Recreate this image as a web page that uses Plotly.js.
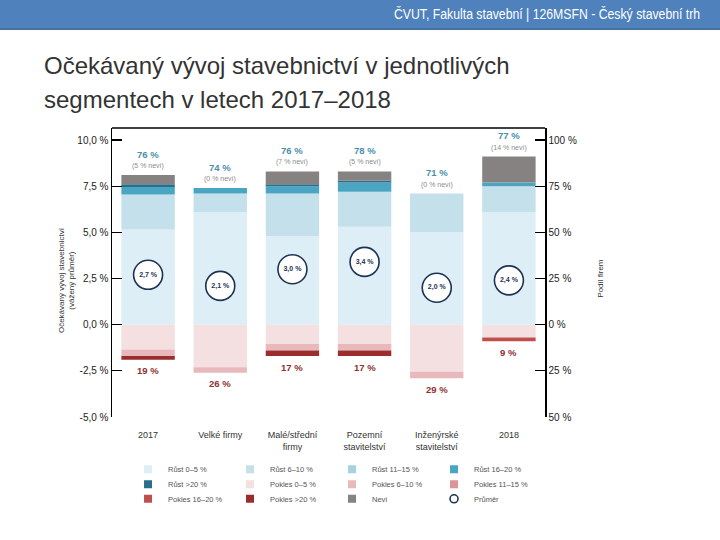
<!DOCTYPE html>
<html><head><meta charset="utf-8">
<script src="https://cdn.plot.ly/plotly-3.0.1.min.js"></script>
<style>
html,body{margin:0;padding:0;background:#fff;width:720px;height:540px;overflow:hidden;}
#chart{position:absolute;left:0;top:0;width:720px;height:540px;}
#header{position:absolute;left:0;top:0;width:720px;height:28px;background:#4f81bd;border-bottom:2px solid #46729f;z-index:5;}
#header span{position:absolute;left:394px;top:6px;color:#fff;font-family:"Liberation Sans",Arial,sans-serif;font-size:14px;white-space:nowrap;transform:scaleX(0.875);transform-origin:0 0;}
#title{position:absolute;left:44px;top:49px;font-family:"Liberation Sans",Arial,sans-serif;font-size:24px;line-height:34px;color:#333;z-index:5;white-space:nowrap;}
</style>
</head><body>
<div id="chart"></div>
<div id="header"><span>ČVUT, Fakulta stavební | 126MSFN - Český stavební trh</span></div>
<div id="title">Očekávaný vývoj stavebnictví v jednotlivých<br>segmentech v letech 2017–2018</div>
<script>
// ---- data (podíl firem v %) ----
const categories = ['2017', 'Velké firmy', 'Malé/střední<br>firmy', 'Pozemní<br>stavitelství', 'Inženýrské<br>stavitelství', '2018'];
const rust0_5   = [51.5, 61, 48, 53, 50, 61];
const rust6_10  = [19, 10, 23, 19, 21, 14];
const rust11_15 = [0, 0, 0, 0, 0, 0];
const rust16_20 = [4, 3, 4, 5, 0, 2];
const rust20    = [1.5, 0, 1, 1, 0, 0];
const nevi      = [5, 0, 7, 5, 0, 14];
const pokles0_5   = [13.5, 23, 10.5, 10.5, 25.5, 7];
const pokles6_10  = [3.5, 3, 3.5, 3.5, 3.5, 0];
const pokles11_15 = [0, 0, 0, 0, 0, 0];
const pokles16_20 = [0, 0, 0, 0, 0, 2];
const pokles20    = [2, 0, 3, 3, 0, 0];
// vážený průměr očekávaného vývoje (%)
const prumer = [2.7, 2.1, 3.0, 3.4, 2.0, 2.4];
// osy
const leftTicks  = [10, 7.5, 5, 2.5, 0, -2.5, -5];
const rightTicks = [100, 75, 50, 25, 0, -25, -50];

const fmt1 = v => v.toFixed(1).replace('.', ',') + ' %';
const xIdx = categories.map((_, i) => i);
const between = categories.slice(1).map((_, i) => i + 0.5);

const C = {
  r0: '#deeef7', r6: '#c4e0ea', r11: '#a6d1e0', r16: '#4aa5c2', r20: '#2a6e8c',
  p0: '#f4dfe1', p6: '#e8b9bc', p11: '#d99597', p16: '#c0504d', p20: '#9b2d2d',
  nevi: '#878282', navy: '#1d3354'
};

const series = [
  {name: 'Růst 0–5 %',    y: rust0_5,   c: C.r0},
  {name: 'Růst 6–10 %',   y: rust6_10,  c: C.r6},
  {name: 'Růst 11–15 %',  y: rust11_15, c: C.r11},
  {name: 'Růst 16–20 %',  y: rust16_20, c: C.r16},
  {name: 'Růst >20 %',    y: rust20,    c: C.r20},
  {name: 'Neví',          y: nevi,      c: C.nevi},
  {name: 'Pokles 0–5 %',  y: pokles0_5.map(v => -v),   c: C.p0},
  {name: 'Pokles 6–10 %', y: pokles6_10.map(v => -v),  c: C.p6},
  {name: 'Pokles 11–15 %',y: pokles11_15.map(v => -v), c: C.p11},
  {name: 'Pokles 16–20 %',y: pokles16_20.map(v => -v), c: C.p16},
  {name: 'Pokles >20 %',  y: pokles20.map(v => -v),    c: C.p20}
];

const traces = series.map(s => ({
  type: 'bar', x: xIdx, y: s.y, name: s.name, xaxis: 'x', yaxis: 'y',
  marker: {color: s.c, line: {width: 0}}, showlegend: false, hoverinfo: 'name+y'
}));

traces.push({
  type: 'scatter', mode: 'markers+text', x: xIdx, y: prumer, yaxis: 'y2', xaxis: 'x',
  text: prumer.map(fmt1), textposition: 'middle center',
  textfont: {size: 7, color: C.navy, family: 'Liberation Sans, Arial', weight: 'bold'},
  marker: {size: 29, color: '#ffffff', line: {color: C.navy, width: 1.6}},
  name: 'Průměr', showlegend: false, cliponaxis: false
});

// legend entries (order as in the reference)
const legendOrder = [
  ['Růst 0–5 %', C.r0, 'legend'], ['Růst 6–10 %', C.r6, 'legend'], ['Růst 11–15 %', C.r11, 'legend'], ['Růst 16–20 %', C.r16, 'legend'],
  ['Růst >20 %', C.r20, 'legend2'], ['Pokles 0–5 %', C.p0, 'legend2'], ['Pokles 6–10 %', C.p6, 'legend2'], ['Pokles 11–15 %', C.p11, 'legend2'],
  ['Pokles 16–20 %', C.p16, 'legend3'], ['Pokles >20 %', C.p20, 'legend3'], ['Neví', C.nevi, 'legend3'], ['Průměr', null, 'legend3']
];
legendOrder.forEach(([n, c, lg]) => {
  traces.push({
    type: 'scatter', mode: 'markers', x: [null], y: [null], name: n, legend: lg, showlegend: true,
    marker: c ? {symbol: 'square', size: 8, color: c} : {symbol: 'circle-open', size: 8, color: C.navy, line: {width: 1.6, color: C.navy}},
    hoverinfo: 'skip'
  });
});

const annotations = [];
xIdx.forEach(i => {
  const rc = rust0_5[i] + rust6_10[i] + rust11_15[i] + rust16_20[i] + rust20[i];
  const pc = pokles0_5[i] + pokles6_10[i] + pokles11_15[i] + pokles16_20[i] + pokles20[i];
  const top = rc + nevi[i];
  annotations.push({x: i, y: top, xref: 'x', yref: 'y', text: '<b>' + Math.round(rc) + ' %</b>', showarrow: false, yshift: 21,
    font: {size: 9.5, color: '#4a8faa', family: 'Liberation Sans, Arial'}});
  annotations.push({x: i, y: top, xref: 'x', yref: 'y', text: '(' + Math.round(nevi[i]) + ' % neví)', showarrow: false, yshift: 9,
    font: {size: 7, color: '#8c8c8c', family: 'Liberation Sans, Arial'}});
  annotations.push({x: i, y: -pc, xref: 'x', yref: 'y', text: '<b>' + Math.round(pc) + ' %</b>', showarrow: false, yshift: -11,
    font: {size: 9.5, color: '#8e3232', family: 'Liberation Sans, Arial'}});
});
annotations.push({xref: 'paper', yref: 'paper', x: -0.132, y: 0.475, textangle: -90, showarrow: false,
  text: 'Očekávaný vývoj stavebnictví<br>(vážený průměr)', font: {size: 8, color: '#333', family: 'Liberation Sans, Arial'}});
annotations.push({xref: 'paper', yref: 'paper', x: 1.143, y: 0.48, textangle: -90, showarrow: false,
  text: 'Podíl firem', font: {size: 8, color: '#333', family: 'Liberation Sans, Arial'}});

const yMin = -50, yMax = 106.5;
const legFont = {size: 7.5, color: '#555', family: 'Liberation Sans, Arial'};
const legBase = {orientation: 'h', xanchor: 'left', yanchor: 'middle', x: 0.037, entrywidth: 57, font: legFont, bgcolor: 'rgba(0,0,0,0)', itemwidth: 30, traceorder: 'normal'};

const layout = {
  width: 720, height: 540,
  margin: {l: 112, r: 175, t: 128, b: 122.5},
  paper_bgcolor: '#ffffff', plot_bgcolor: 'rgba(0,0,0,0)',
  barmode: 'relative', bargap: 0.26,
  font: {family: 'Liberation Sans, Arial', color: '#222'},
  showlegend: true,
  legend: Object.assign({}, legBase, {y: -0.181}),
  legend2: Object.assign({}, legBase, {y: -0.233}),
  legend3: Object.assign({}, legBase, {y: -0.283}),
  xaxis: {range: [-0.5, 5.5], tickvals: xIdx, ticktext: categories, showgrid: false, zeroline: false, showline: false,
    ticks: '', ticklabelstandoff: 11, tickfont: {size: 9, color: '#333', family: 'Liberation Sans, Arial'}},
  xaxis2: {overlaying: 'x', anchor: 'free', position: (0 - yMin) / (yMax - yMin), range: [-0.5, 5.5], tickvals: between,
    showticklabels: false, ticks: 'inside', ticklen: 7, tickwidth: 1.3, tickcolor: '#111', showgrid: false, zeroline: false, showline: false},
  yaxis: {side: 'right', range: [yMin, yMax], tickvals: rightTicks, ticktext: rightTicks.map(v => Math.abs(v) + ' %'),
    ticks: 'inside', ticklen: 10, tickwidth: 1.3, tickcolor: '#000', showline: true, linecolor: '#000', linewidth: 1.5,
    showgrid: false, zeroline: false, tickfont: {size: 10, color: '#222'}},
  yaxis2: {overlaying: 'y', side: 'left', range: [yMin / 10, yMax / 10], tickvals: leftTicks, ticktext: leftTicks.map(fmt1),
    ticks: 'inside', ticklen: 10, tickwidth: 1.3, tickcolor: '#000', showline: true, linecolor: '#000', linewidth: 1.5,
    showgrid: false, zeroline: false, tickfont: {size: 10, color: '#222'}},
  shapes: [{type: 'line', xref: 'paper', yref: 'paper', x0: 0, x1: 1, y0: 1, y1: 1, line: {color: '#000', width: 1.5}}],
  annotations: annotations
};

Plotly.newPlot('chart', traces, layout, {displayModeBar: false, staticPlot: true});
</script>
</body></html>
